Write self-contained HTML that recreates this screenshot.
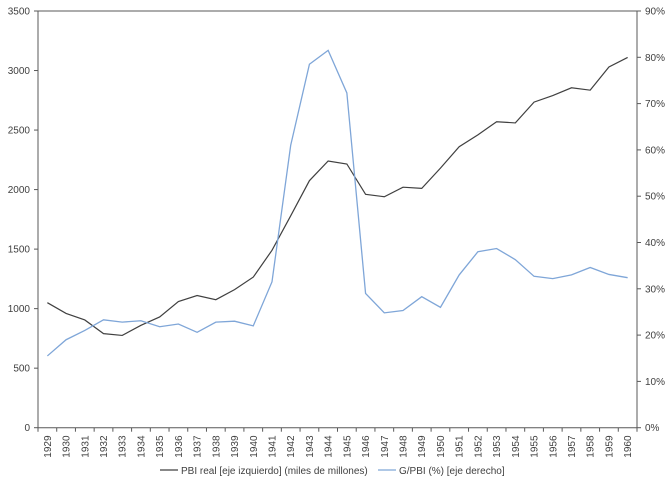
<!DOCTYPE html>
<html><head><meta charset="utf-8"><style>
html,body{margin:0;padding:0;background:#fff;}
svg{display:block;font-family:"Liberation Sans",sans-serif;}
</style></head><body>
<svg id="c" width="672" height="488" xmlns="http://www.w3.org/2000/svg"></svg>
<script>
const L=38,R=637,T=11,B=427.7,n=32,w=(R-L)/n;
const pbi=[1050,960,905,790,775,860,930,1060,1110,1075,1160,1265,1490,1780,2075,2240,2215,1960,1940,2020,2010,2180,2360,2460,2570,2560,2735,2790,2855,2835,3030,3110];
const g=[15.5,19,21,23.3,22.8,23.1,21.8,22.4,20.6,22.8,23,22,31.5,61,78.5,81.5,72.3,29,24.8,25.3,28.3,26,33,38,38.7,36.3,32.7,32.2,33,34.6,33.1,32.4];
let s='';
const yl=v=>B-(B-T)*v/3500, yr=v=>B-(B-T)*v/90;
s+=`<line x1="${L}" y1="${T}" x2="${R}" y2="${T}" stroke="#595959" stroke-width="1"/>`;
s+=`<line x1="${L}" y1="${T}" x2="${L}" y2="${B}" stroke="#595959"/>`;
s+=`<line x1="${R}" y1="${T}" x2="${R}" y2="${B}" stroke="#595959"/>`;
s+=`<line x1="${L}" y1="${B}" x2="${R}" y2="${B}" stroke="#595959"/>`;
for(let v=0;v<=3500;v+=500){const y=yl(v);s+=`<line x1="${L-4}" y1="${y}" x2="${L}" y2="${y}" stroke="#595959"/><text x="${L-8}" y="${y+3.5}" font-size="10" text-anchor="end" fill="#404040">${v}</text>`;}
for(let v=0;v<=90;v+=10){const y=yr(v);s+=`<line x1="${R}" y1="${y}" x2="${R+4}" y2="${y}" stroke="#595959"/><text x="${R+8}" y="${y+3.5}" font-size="10" fill="#404040">${v}%</text>`;}
for(let i=0;i<=n;i++){const x=L+w*i;s+=`<line x1="${x}" y1="${B}" x2="${x}" y2="${B+4}" stroke="#595959"/>`;}
for(let i=0;i<n;i++){const x=L+w*(i+0.5);s+=`<text transform="translate(${x+3.5},${B+30}) rotate(-90)" font-size="10" fill="#404040">${1929+i}</text>`;}
s+=`<polyline fill="none" stroke="#404040" stroke-width="1.2" points="${pbi.map((v,i)=>(L+w*(i+0.5))+','+yl(v)).join(' ')}"/>`;
s+=`<polyline fill="none" stroke="#7fa6d8" stroke-width="1.3" points="${g.map((v,i)=>(L+w*(i+0.5))+','+yr(v)).join(' ')}"/>`;
s+=`<line x1="160" y1="470" x2="178" y2="470" stroke="#404040" stroke-width="1.2"/><text x="181" y="474" font-size="10" fill="#404040">PBI real [eje izquierdo] (miles de millones)</text>`;
s+=`<line x1="378" y1="470" x2="396" y2="470" stroke="#7fa6d8" stroke-width="1.3"/><text x="399" y="474" font-size="10" fill="#404040">G/PBI (%) [eje derecho]</text>`;
document.getElementById('c').innerHTML=s;
</script>
</body></html>
